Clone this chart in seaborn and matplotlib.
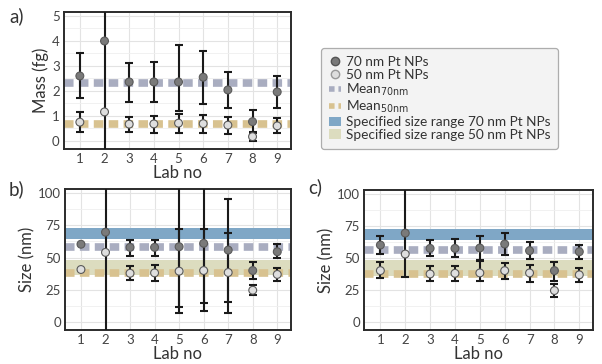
import numpy as np
import pandas as pd
import matplotlib.pyplot as plt
import seaborn as sns
from matplotlib.lines import Line2D
from matplotlib.patches import Patch
from matplotlib.ticker import MultipleLocator

# ── Data ──────────────────────────────────────────────────────────────────────

labs = [1, 2, 3, 4, 5, 6, 7, 8, 9]

# a) mass (fg)
mass_70 = [2.6, 4.0, 2.36, 2.36, 2.36, 2.55, 2.04, 0.77, 1.96]
mass_70_lo = [1.73, -5.0, 1.57, 1.55, 1.2, 1.48, 1.31, 0.31, 1.31]
mass_70_hi = [3.5, 10.0, 3.13, 3.17, 3.84, 3.61, 2.77, 1.24, 2.6]
mass_50 = [0.75, 1.16, 0.67, 0.68, 0.71, 0.69, 0.63, 0.17, 0.6]
mass_50_lo = [0.37, 1.16, 0.36, 0.33, 0.33, 0.33, 0.28, 0.01, 0.31]
mass_50_hi = [1.15, 1.16, 0.95, 1.0, 1.08, 1.04, 0.95, 0.35, 0.91]
mass_mean_70 = 2.33
mass_mean_50 = 0.67

# b) size (nm), first method
size_b_70 = [60.3, 69.6, 57.9, 57.9, 58.4, 61.0, 55.8, 40.0, 54.5]
size_b_70_lo = [60.3, -50, 51.4, 51.0, 7.5, 8.5, 7.5, 33.8, 49.4]
size_b_70_hi = [60.3, 200, 63.6, 63.8, 200, 200, 95.3, 46.8, 60.2]
size_b_50 = [40.8, 54.0, 37.9, 38.2, 39.5, 40.0, 38.5, 24.8, 37.0]
size_b_50_lo = [40.8, 54.0, 33.0, 32.2, 11.9, 15.2, 15.7, 20.9, 31.8]
size_b_50_hi = [40.8, 54.0, 43.4, 44.2, 72.0, 72.0, 68.7, 28.7, 42.1]
size_b_mean_70 = 57.9
size_b_mean_50 = 38.4

# c) size (nm), second method
size_c_70 = [60.2, 69.5, 57.6, 57.6, 57.9, 61.0, 55.8, 40.3, 55.0]
size_c_70_lo = [53.2, 35.1, 51.4, 50.6, 48.8, 52.5, 49.4, 32.6, 49.4]
size_c_70_hi = [67.4, 200, 64.3, 64.9, 67.4, 69.5, 62.8, 47.3, 60.2]
size_c_50 = [40.3, 53.2, 37.7, 38.2, 38.5, 40.3, 38.5, 24.8, 37.0]
size_c_50_lo = [34.4, 53.2, 32.6, 32.0, 32.6, 33.9, 31.8, 19.6, 31.3]
size_c_50_hi = [46.8, 53.2, 43.6, 44.2, 48.0, 46.0, 44.7, 30.0, 42.1]
size_c_mean_70 = 56.0
size_c_mean_50 = 37.5

spec_70 = (64.5, 72.8)
spec_50 = (36.5, 48.5)

# ── Style ─────────────────────────────────────────────────────────────────────

C70, C50 = "#7a7a7a", "#dedede"
MEAN70, MEAN50 = "#a9adc0", "#d8c290"
BAND70, BAND50 = "#7fa7c6", "#dcdcbf"
TXT = "#333333"

sns.set_theme(style="white")
plt.rcParams["font.family"] = ["Lato", "DejaVu Sans"]
plt.rcParams["text.color"] = TXT
plt.rcParams["axes.labelcolor"] = TXT


def panel(ax, y70, lo70, hi70, y50, lo50, hi50, m70, m50, ylim, yticks, ylabel,
          bands=False):
    df = pd.DataFrame({
        "lab": labs * 2,
        "value": y70 + y50,
        "lo": lo70 + lo50,
        "hi": hi70 + hi50,
        "type": ["70"] * len(labs) + ["50"] * len(labs),
    })
    if bands:
        ax.axhspan(*spec_70, color=BAND70, lw=0, zorder=1)
        ax.axhspan(*spec_50, color=BAND50, lw=0, zorder=1)
    ax.axhline(m70, color=MEAN70, lw=5.5, dashes=(1.25, 0.7), zorder=2)
    ax.axhline(m50, color=MEAN50, lw=5.5, dashes=(1.25, 0.7), zorder=2)

    for t in ["70", "50"]:
        d = df[df["type"] == t]
        ax.errorbar(d["lab"], d["value"],
                    yerr=[d["value"] - d["lo"], d["hi"] - d["value"]],
                    fmt="none", ecolor="#1a1a1a", elinewidth=1.5,
                    capsize=3.2, capthick=1.5, zorder=3)
    sns.scatterplot(data=df, x="lab", y="value", hue="type",
                    palette={"70": C70, "50": C50}, s=32,
                    edgecolor="#5a5a5a", linewidth=0.8, legend=False,
                    zorder=4, ax=ax)

    ax.set_xlim(0.35, 9.55)
    ax.set_ylim(*ylim)
    ax.set_xticks(labs)
    ax.set_yticks(yticks)
    ax.yaxis.set_minor_locator(MultipleLocator((yticks[1] - yticks[0]) / 2))
    ax.grid(True, which="major", color="#e3e3e3", lw=0.8, zorder=0)
    ax.grid(True, which="minor", axis="y", color="#efefef", lw=0.6, zorder=0)
    ax.set_axisbelow(True)
    ax.tick_params(labelsize=9.5, colors="#444444", length=0, pad=3)
    ax.set_xlabel("Lab no", fontsize=12, labelpad=0)
    ax.set_ylabel(ylabel, fontsize=12, labelpad=2)
    for s in ax.spines.values():
        s.set_visible(True)
        s.set_color("#2b2b2b")
        s.set_linewidth(1.4)


fig = plt.figure(figsize=(6.02, 3.64), dpi=100)
ax_a = fig.add_axes([0.106, 0.591, 0.377, 0.376])
ax_b = fig.add_axes([0.108, 0.093, 0.375, 0.388])
ax_c = fig.add_axes([0.605, 0.093, 0.380, 0.385])

panel(ax_a, mass_70, mass_70_lo, mass_70_hi, mass_50, mass_50_lo, mass_50_hi,
      mass_mean_70, mass_mean_50, (-0.32, 5.16), [0, 1, 2, 3, 4, 5], "Mass (fg)")
panel(ax_b, size_b_70, size_b_70_lo, size_b_70_hi, size_b_50, size_b_50_lo,
      size_b_50_hi, size_b_mean_70, size_b_mean_50, (-6, 103),
      [0, 25, 50, 75, 100], "Size (nm)", bands=True)
panel(ax_c, size_c_70, size_c_70_lo, size_c_70_hi, size_c_50, size_c_50_lo,
      size_c_50_hi, size_c_mean_70, size_c_mean_50, (-6, 103),
      [0, 25, 50, 75, 100], "Size (nm)", bands=True)

fig.text(0.015, 0.955, "a)", fontsize=13.5, color=TXT, va="center")
fig.text(0.015, 0.48, "b)", fontsize=13.5, color=TXT, va="center")
fig.text(0.512, 0.485, "c)", fontsize=13.5, color=TXT, va="center")

# ── Legend ────────────────────────────────────────────────────────────────────

handles = [
    Line2D([], [], ls="none", marker="o", ms=6, mfc=C70, mec="#555555"),
    Line2D([], [], ls="none", marker="o", ms=6, mfc=C50, mec="#999999"),
    Line2D([], [], color=MEAN70, lw=4, dashes=(1.0, 0.7)),
    Line2D([], [], color=MEAN50, lw=4, dashes=(1.0, 0.7)),
    Patch(facecolor=BAND70, edgecolor="none"),
    Patch(facecolor=BAND50, edgecolor="none"),
]
labels = [
    "70 nm Pt NPs",
    "50 nm Pt NPs",
    r"Mean$_{\mathrm{70nm}}$",
    r"Mean$_{\mathrm{50nm}}$",
    "Specified size range 70 nm Pt NPs",
    "Specified size range 50 nm Pt NPs",
]
leg = fig.legend(handles, labels, loc="upper left",
                 bbox_to_anchor=(0.522, 0.887), fontsize=9.8,
                 handlelength=0.9, handletextpad=0.3, labelspacing=0.06,
                 borderpad=0.6, frameon=True, fancybox=True)
leg.get_frame().set_facecolor("#f1f1f1")
leg.get_frame().set_edgecolor("#9a9a9a")
leg.get_frame().set_linewidth(0.9)

fig.savefig("out.png", dpi=100)
